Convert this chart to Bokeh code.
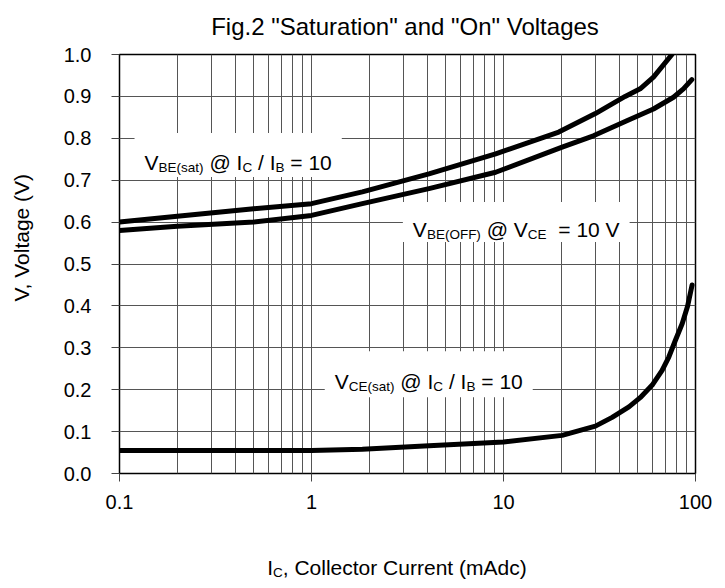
import math
from bokeh.plotting import figure
from bokeh.models import Label, FixedTicker, Range1d
from bokeh.layouts import column
from bokeh.embed import file_html
from bokeh.resources import INLINE

# ---------------- data ----------------
ic_be_sat = [0.1, 0.2, 0.5, 1.0, 1.84, 4.09, 9.1, 19.4, 30.1, 43.0, 51.5, 60.4, 75.4]
v_be_sat = [0.600, 0.614, 0.632, 0.644, 0.672, 0.715, 0.763, 0.815, 0.859, 0.900, 0.918, 0.946, 1.000]

ic_be_off = [0.1, 0.2, 0.5, 1.0, 1.84, 4.09, 9.1, 20.2, 29.4, 43.9, 60.4, 76.8, 86.5, 95.7]
v_be_off = [0.580, 0.590, 0.600, 0.616, 0.644, 0.680, 0.719, 0.779, 0.806, 0.842, 0.870, 0.898, 0.918, 0.940]

ic_ce_sat = [0.1, 0.3, 1.0, 1.84, 4.09, 10.0, 20.2, 30.1, 36.8, 45.0, 51.5, 59.5, 67.0, 72.6, 78.6, 85.3, 91.0, 96.0]
v_ce_sat = [0.055, 0.055, 0.055, 0.058, 0.066, 0.075, 0.091, 0.113, 0.134, 0.159, 0.181, 0.211, 0.246, 0.278, 0.318, 0.358, 0.400, 0.450]

x_tick_values = [0.1, 1, 10, 100]
x_tick_labels = ["0.1", "1", "10", "100"]
x_minor_values = [m * d for d in (0.1, 1, 10) for m in range(2, 10)]
y_tick_values = [i / 10 for i in range(11)]
y_tick_labels = ["%.1f" % v for v in y_tick_values]

title_text = 'Fig.2 "Saturation" and "On" Voltages'
y_title = "V, Voltage (V)"
x_title = [("I", False), ("C", True), (", Collector Current (mAdc)", False)]

# annotation texts: (pieces, x centre (mA), y centre (V))
ann_pieces = [
    [("V", False), ("BE(sat)", True), (" @ I", False), ("C", True), (" / I", False), ("B", True), (" = 10", False)],
    [("V", False), ("BE(OFF)", True), (" @ V", False), ("CE", True), ("  = 10 V", False)],
    [("V", False), ("CE(sat)", True), (" @ I", False), ("C", True), (" / I", False), ("B", True), (" = 10", False)],
]
ann_x = [0.415, 11.65, 4.08]
ann_y = [0.760, 0.600, 0.237]

# ---------------- styling ----------------
FONT = "Liberation Sans"
MAIN = 21.0
SUB = 13.5
W = {' ': 278, '@': 1015, '(': 333, ')': 333, '/': 278, '=': 584, ',': 278, '.': 278,
     '0': 556, '1': 556, '2': 556,
     'A': 667, 'B': 667, 'C': 722, 'E': 667, 'F': 611, 'I': 278, 'O': 778, 'V': 667,
     'a': 556, 'c': 500, 'd': 556, 'e': 556, 'l': 222, 'm': 833, 'n': 556, 'o': 556,
     'r': 333, 's': 500, 't': 278, 'u': 556}

LEFT, RIGHT, FRAME_W, FRAME_H = 119, 22, 576, 419
TOTAL_W = LEFT + FRAME_W + RIGHT
TOP_H, MAIN_TOP, MAIN_BOTTOM, BOTTOM_H = 40, 14, 50, 57


def tw(s, size):
    return sum(W.get(ch, 556) for ch in s) * size / 1000.0


def pieces_width(pieces):
    return sum(tw(t, SUB if sub else MAIN) for t, sub in pieces)


def add_pieces(fig, pieces, x, y, base_off):
    total = pieces_width(pieces)
    pos = -total / 2.0
    for text, sub in pieces:
        size = SUB if sub else MAIN
        lead = len(text) - len(text.lstrip(' '))
        pos += tw(' ' * lead, size)
        core = text.strip(' ')
        fig.add_layout(Label(x=x, y=y, text=core,
                             x_offset=pos, y_offset=base_off - (4.5 if sub else 0.0),
                             text_font=FONT, text_font_size="%.1fpx" % size,
                             text_color="black", text_align="left",
                             text_baseline="alphabetic"))
        pos += tw(text.lstrip(' '), size)


def strip_figure(height):
    f = figure(width=TOTAL_W, height=height, title=None,
               x_range=Range1d(LEFT, LEFT + FRAME_W), y_range=Range1d(0, height),
               output_backend="svg", toolbar_location=None,
               min_border_left=LEFT, min_border_right=RIGHT,
               min_border_top=0, min_border_bottom=0)
    f.outline_line_color = None
    f.axis.visible = False
    f.grid.visible = False
    f.background_fill_color = "white"
    f.border_fill_color = "white"
    return f


# ---------------- main chart ----------------
p = figure(width=TOTAL_W, height=MAIN_TOP + FRAME_H + MAIN_BOTTOM, title=None,
           x_axis_type="log",
           x_range=Range1d(0.1, 100), y_range=Range1d(0, 1.0),
           output_backend="svg", toolbar_location=None,
           min_border_left=LEFT, min_border_right=RIGHT,
           min_border_top=MAIN_TOP, min_border_bottom=MAIN_BOTTOM)
p.background_fill_color = "white"
p.border_fill_color = "white"
p.outline_line_color = "black"
p.outline_line_width = 1.5
p.outline_line_alpha = 1.0

p.xaxis.ticker = FixedTicker(ticks=x_tick_values, minor_ticks=x_minor_values)
p.xaxis.major_label_overrides = dict(zip(x_tick_values, x_tick_labels))
p.yaxis.ticker = FixedTicker(ticks=y_tick_values)
p.yaxis.major_label_overrides = dict(zip(y_tick_values, y_tick_labels))

for ax in (p.xaxis, p.yaxis):
    ax.axis_line_color = None
    ax.major_tick_line_color = "#444444"
    ax.major_tick_line_width = 1
    ax.major_tick_out = 8
    ax.major_tick_in = 0
    ax.minor_tick_line_color = None
    ax.major_label_text_font = FONT
    ax.major_label_text_font_size = "20px"
    ax.major_label_text_color = "black"
p.yaxis.major_label_standoff = 20
p.xaxis.major_label_standoff = 13

# y-axis title, moved up along the axis like the reference
p.yaxis.axis_label = "\u00a0" * 9 + y_title
p.yaxis.axis_label_text_font = FONT
p.yaxis.axis_label_text_font_size = "21px"
p.yaxis.axis_label_text_font_style = "normal"
p.yaxis.axis_label_text_color = "black"
p.yaxis.axis_label_standoff = 28

p.xgrid.grid_line_color = "#555555"
p.xgrid.grid_line_width = 1
p.xgrid.minor_grid_line_color = "#555555"
p.xgrid.minor_grid_line_width = 1
p.ygrid.grid_line_color = "#555555"
p.ygrid.grid_line_width = 1

# white boxes behind annotation texts
box_w = [pieces_width(pc) + 20 for pc in ann_pieces]
p.rect(x=ann_x, y=ann_y, width=box_w, height=[44, 40, 46],
       width_units="screen", height_units="screen",
       fill_color="white", line_color=None)

for xs, ys in ((ic_be_sat, v_be_sat), (ic_be_off, v_be_off), (ic_ce_sat, v_ce_sat)):
    p.line(xs, ys, line_color="black", line_width=5, line_join="round", line_cap="round")

for pc, ax_, ay_ in zip(ann_pieces, ann_x, ann_y):
    add_pieces(p, pc, ax_, ay_, -7.5)

# ---------------- title strip (pixel coordinates) ----------------
p0 = strip_figure(TOP_H)
p0.add_layout(Label(x=404.5, y=TOP_H - 26, text=title_text,
                    text_font=FONT, text_font_size="24px", text_color="black",
                    text_align="center", text_baseline="alphabetic"))

# ---------------- x-axis title strip (pixel coordinates) ----------------
p2 = strip_figure(BOTTOM_H)
add_pieces(p2, x_title, 396.4, 13.0, 0.0)

layout = column(p0, p, p2, spacing=0)
open("out.html", "w").write(file_html(layout, INLINE))
